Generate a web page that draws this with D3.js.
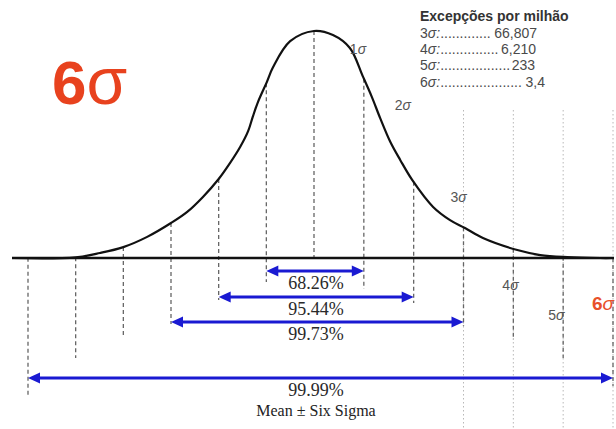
<!DOCTYPE html>
<html><head><meta charset="utf-8">
<script src="https://cdn.jsdelivr.net/npm/d3@7"></script>
<style>body{margin:0;background:#fff}svg{display:block}</style>
</head><body><svg id="c" width="616" height="429"></svg>
<script>
// ---- data ----
const sigmaTicks = [-6,-5,-4,-3,-2,-1,0,1,2,3,4,5,6];
const curveSigma   = [-6.3,-5.0,-4.49,-4.0,-3.5,-3.0,-2.66,-2.33,-2.0,-1.76,-1.55,-1.38,-1.28,-1.17,-0.99,-0.86,-0.5,0,0.38,0.72,0.98,1.16,1.33,1.53,1.73,1.97,2.39,2.73,3.03,3.39,4.08,4.54,5.08,5.74,6.0];
const curveDensity = [0,0.003,0.022,0.048,0.093,0.154,0.203,0.269,0.348,0.419,0.489,0.56,0.625,0.69,0.775,0.84,0.955,1.0,0.982,0.925,0.80,0.71,0.615,0.512,0.432,0.344,0.225,0.167,0.132,0.088,0.035,0.013,0.004,0,0];
const bandLabels = ["68.26%","95.44%","99.73%","99.99%"];
const bandSigma = [1,2,3,6];
const bandCaption = "Mean \u00b1 Six Sigma";
const legendTitle = "Excepções por milhão";
const legendLevels = ["3","4","5","6"];
const legendValues = ["66,807","6,210","233","3,4"];
const sigmaLabelLevels = [1,2,3,4,5,6];
const bigTitle = ["6","\u03c3"];

// ---- layout ----
const svg = d3.select("#c");
svg.append("rect").attr("width",616).attr("height",429).attr("fill","#fff");
const x = d3.scaleLinear().domain([-6,0,6]).range([28,314,613]);
const y = d3.scaleLinear().domain([0,1]).range([258,31]);
const dashBottom = [395,358,335,324,300,282,258,289,303,326,340,358,386];
const bandRowY = [271,297,322,378];
const blue = "#1a1ad2";
const serif = "'Liberation Serif','Times New Roman',serif";
const sans = "'Liberation Sans',Arial,sans-serif";

function densityAt(s){
  for(let i=0;i<curveSigma.length-1;i++){
    if(s>=curveSigma[i] && s<=curveSigma[i+1]){
      const t=(s-curveSigma[i])/(curveSigma[i+1]-curveSigma[i]);
      return curveDensity[i]+t*(curveDensity[i+1]-curveDensity[i]);
    }
  }
  return 0;
}

// light dotted guides on the right
svg.selectAll("line.guide").data(sigmaTicks.filter(d=>d>=3)).enter().append("line")
  .attr("x1",d=>x(d)).attr("x2",d=>x(d)).attr("y1",110).attr("y2",429)
  .attr("stroke","#b8b8b8").attr("stroke-width",1).attr("stroke-dasharray","1.5,2.5");

// dashed sigma lines
svg.selectAll("line.sig").data(sigmaTicks).enter().append("line")
  .attr("x1",d=>x(d)).attr("x2",d=>x(d))
  .attr("y1",d=>y(densityAt(d)))
  .attr("y2",(d,i)=>dashBottom[i])
  .attr("stroke","#666").attr("stroke-width",1.3).attr("stroke-dasharray","4,3");

// baseline
svg.append("line").attr("x1",12).attr("x2",614).attr("y1",y(0)).attr("y2",y(0))
  .attr("stroke","#111").attr("stroke-width",2.6);

// curve
const pts = curveSigma.map((s,i)=>[s,curveDensity[i]]);
svg.append("path").datum(pts)
  .attr("d",d3.line().x(d=>x(d[0])).y(d=>y(d[1])).curve(d3.curveCatmullRom.alpha(0.5)))
  .attr("fill","none").attr("stroke","#111").attr("stroke-width",2.2);

// band arrows
const ah=12, aw=5.5;
bandSigma.forEach((s,i)=>{
  const x0=x(-s), x1=x(s), yy=bandRowY[i];
  const g=svg.append("g");
  g.append("line").attr("x1",x0+ah-2).attr("x2",x1-ah+2).attr("y1",yy).attr("y2",yy)
    .attr("stroke",blue).attr("stroke-width",3);
  g.append("path").attr("d",`M${x0},${yy}L${x0+ah},${yy-aw}L${x0+ah},${yy+aw}Z`).attr("fill",blue);
  g.append("path").attr("d",`M${x1},${yy}L${x1-ah},${yy-aw}L${x1-ah},${yy+aw}Z`).attr("fill",blue);
  g.append("text").attr("x",316).attr("y",yy+18).attr("text-anchor","middle")
    .attr("font-family",serif).attr("font-size",18)
    .attr("fill","#2a2a2a").text(bandLabels[i]);
});
svg.append("text").attr("x",316).attr("y",416).attr("text-anchor","middle")
  .attr("font-family",serif).attr("font-size",16)
  .attr("fill","#222").text(bandCaption);

// sigma labels on curve
const labDx=[-14,-19,-13,-11,-15,-21], labY=[54,110,202,290,320,310];
sigmaLabelLevels.forEach((s,i)=>{
  const t=svg.append("text").attr("x",x(s)+labDx[i]).attr("y",labY[i])
    .attr("font-family",sans)
    .attr("font-size", s===6?19:14)
    .attr("font-weight", s===6?"bold":"normal")
    .attr("fill", s===6?"#e8502a":"#555");
  t.append("tspan").text(String(s));
  t.append("tspan").attr("font-style","italic").attr("font-weight","normal").text("\u03c3");
});

// big title
const bt=svg.append("text").attr("x",52).attr("y",104)
  .attr("font-family",sans).attr("font-size",62).attr("fill","#e8421e");
bt.append("tspan").attr("font-weight","bold").text(bigTitle[0]);
bt.append("tspan").attr("font-weight","normal").attr("font-size",66).text(bigTitle[1]);

// legend
const lx=420;
svg.append("text").attr("x",lx).attr("y",21)
  .attr("font-family",sans).attr("font-size",14).attr("font-weight","bold")
  .attr("fill","#333").text(legendTitle);
const rowY=[38,54,70,87], rowEnd=[537,536,535,545];
legendLevels.forEach((lv,i)=>{
  const g=svg.append("g").attr("font-family",sans).attr("font-size",14).attr("fill","#4a4a4a");
  const t=g.append("text").attr("x",lx).attr("y",rowY[i]);
  t.append("tspan").text(lv);
  t.append("tspan").attr("font-style","italic").text("\u03c3:");
  const dots=t.append("tspan").text("");
  const v=g.append("text").attr("x",rowEnd[i]).attr("y",rowY[i]).attr("text-anchor","end").text(legendValues[i]);
  const startW=t.node().getComputedTextLength();
  const vw=v.node().getComputedTextLength();
  dots.text(".");
  const dw=t.node().getComputedTextLength()-startW;
  const n=Math.max(1,Math.floor((rowEnd[i]-vw-lx-startW)/dw));
  dots.text(".".repeat(n));
});
</script></body></html>
